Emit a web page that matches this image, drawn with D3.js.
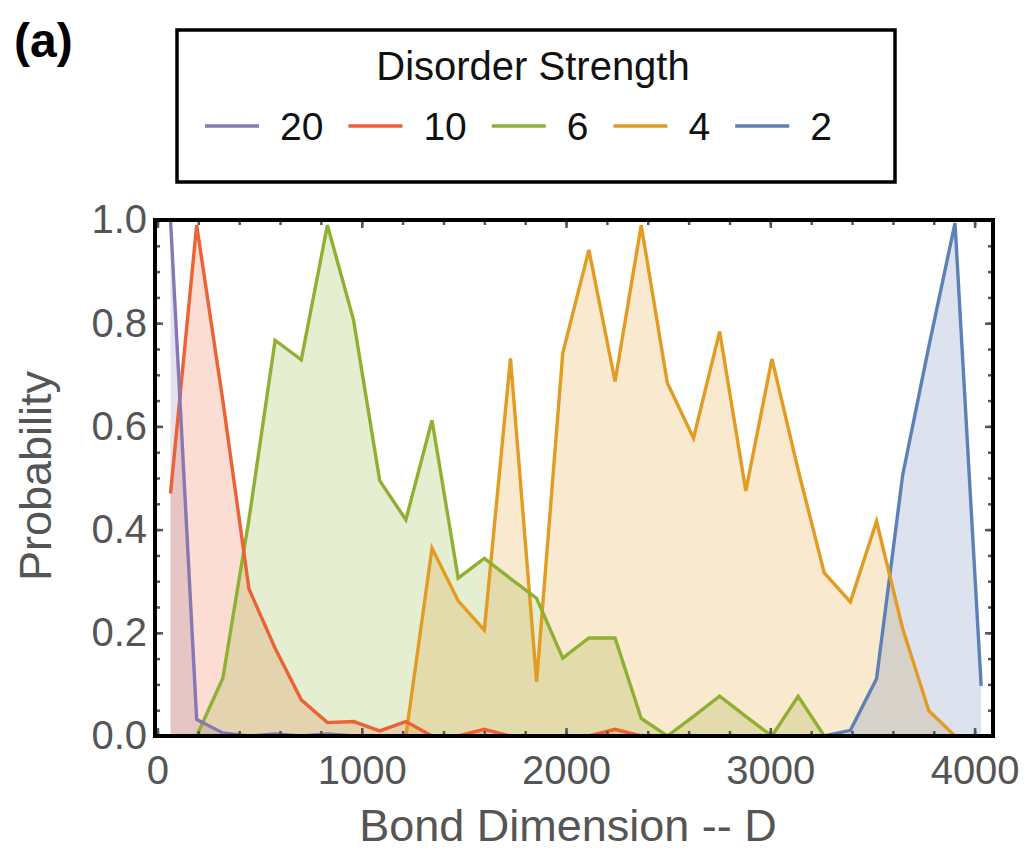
<!DOCTYPE html>
<html>
<head>
<meta charset="utf-8">
<script src="https://cdn.jsdelivr.net/npm/d3@7"></script>
<style>
  body { margin: 0; background: #fff; }
  svg { display: block; font-family: "Liberation Sans", Arial, Helvetica, sans-serif; }
</style>
</head>
<body>
<div id="chart"></div>
<script>
// ---- data ----
const bondDim = [64, 192, 320, 448, 576, 704, 832, 960, 1088, 1216, 1344, 1472, 1600, 1728, 1856, 1984,
                 2112, 2240, 2368, 2496, 2624, 2752, 2880, 3008, 3136, 3264, 3392, 3520, 3648, 3776, 3904, 4032];

// null = not drawn at that D
const prob20 = [1.0, 0.032, 0.006, 0.0, 0.004, 0.0, 0.004, 0.0,
                null, null, null, null, null, null, null, null, null, null, null, null, null, null, null, null,
                null, null, null, null, null, null, null, null];
const prob10 = [0.47, 0.99, 0.65, 0.285, 0.17, 0.07, 0.026, 0.028, 0.01, 0.028, 0.0, 0.0, 0.013, 0.0, 0.0, 0.0,
                0.0, 0.013, 0.0, null, null, null, null, null, null, null, null, null, null, null, null, null];
const prob6  = [null, 0.0, 0.112, 0.42, 0.767, 0.729, 0.99, 0.806, 0.495, 0.419, 0.612, 0.306, 0.344, 0.305, 0.267, 0.151,
                0.19, 0.19, 0.034, 0.0, 0.038, 0.077, 0.038, 0.0, 0.077, 0.0, null, null, null, null, null, null];
const prob4  = [null, null, null, null, null, null, null, null, null, 0.0, 0.364, 0.262, 0.205, 0.732, 0.105, 0.742,
                0.942, 0.687, 0.99, 0.684, 0.577, 0.784, 0.475, 0.731, 0.516, 0.316, 0.26, 0.416, 0.208, 0.049, 0.0, null];
const prob2  = [null, null, null, null, null, null, null, null, null, null, null, null, null, null, null, null,
                null, null, null, null, null, null, null, null, null, 0.0, 0.011, 0.111, 0.506, 0.755, 0.994, 0.097];

const seriesNames  = ["20", "10", "6", "4", "2"];
const seriesValues = [prob20, prob10, prob6, prob4, prob2];
const seriesColors = ["#8778B3", "#EB6235", "#8FB032", "#E19C24", "#5E81B5"];

const xTickLabels = [0, 1000, 2000, 3000, 4000];
const yTickLabels = [0, 0.2, 0.4, 0.6, 0.8, 1.0];
const xMinorTicks = d3.range(0, 4001, 200);
const yMinorTicks = d3.range(0, 1.001, 0.05);

// ---- layout ----
const width = 1031, height = 862;
const frame = { left: 155, right: 993, top: 220, bottom: 736 };

const svg = d3.select("#chart").append("svg")
  .attr("width", width)
  .attr("height", height);

const x = d3.scaleLinear().domain([-12, 4090]).range([frame.left, frame.right]);
const y = d3.scaleLinear().domain([0, 1]).range([frame.bottom, frame.top]);

svg.append("clipPath").attr("id", "plotClip")
  .append("rect")
  .attr("x", frame.left).attr("y", frame.top)
  .attr("width", frame.right - frame.left)
  .attr("height", frame.bottom - frame.top);

const plot = svg.append("g").attr("clip-path", "url(#plotClip)");

// series as point lists
const series = seriesNames.map((name, i) => ({
  name,
  color: seriesColors[i],
  points: bondDim.map((d, j) => ({ d, p: seriesValues[i][j] }))
}));

const area = d3.area()
  .defined(pt => pt.p != null)
  .x(pt => x(pt.d))
  .y0(y(0))
  .y1(pt => y(pt.p));

const line = d3.line()
  .defined(pt => pt.p != null)
  .x(pt => x(pt.d))
  .y(pt => y(pt.p));

// fills first
series.forEach(s => {
  plot.append("path")
    .datum(s.points)
    .attr("d", area)
    .attr("fill", s.color)
    .attr("fill-opacity", 0.22);
});

// lines, purple drawn last
series.slice().reverse().forEach(s => {
  plot.append("path")
    .datum(s.points)
    .attr("d", line)
    .attr("fill", "none")
    .attr("stroke", s.color)
    .attr("stroke-width", 3.4)
    .attr("stroke-linejoin", "miter");
});

// ---- axes (ticks inward on all four sides) ----
function styleAxis(g, fontSize) {
  g.select(".domain").remove();
  g.selectAll(".tick line").attr("stroke", "#555").attr("stroke-width", 2.5);
  g.selectAll(".tick text")
    .attr("fill", "#555")
    .style("font-size", fontSize + "px");
}

// bottom
svg.append("g").attr("transform", `translate(0,${frame.bottom})`)
  .call(d3.axisBottom(x).tickValues(xMinorTicks).tickSize(-5).tickFormat(""))
  .call(g => styleAxis(g, 40));
svg.append("g").attr("transform", `translate(0,${frame.bottom})`)
  .call(d3.axisBottom(x).tickValues(xTickLabels).tickSize(-8).tickPadding(20).tickFormat(d3.format("d")))
  .call(g => styleAxis(g, 40));

// top
svg.append("g").attr("transform", `translate(0,${frame.top})`)
  .call(d3.axisTop(x).tickValues(xMinorTicks).tickSize(-5).tickFormat(""))
  .call(g => styleAxis(g, 40));
svg.append("g").attr("transform", `translate(0,${frame.top})`)
  .call(d3.axisTop(x).tickValues(xTickLabels).tickSize(-8).tickFormat(""))
  .call(g => styleAxis(g, 40));

// left
svg.append("g").attr("transform", `translate(${frame.left},0)`)
  .call(d3.axisLeft(y).tickValues(yMinorTicks).tickSize(-5).tickFormat(""))
  .call(g => styleAxis(g, 40));
svg.append("g").attr("transform", `translate(${frame.left},0)`)
  .call(d3.axisLeft(y).tickValues(yTickLabels).tickSize(-8).tickPadding(8).tickFormat(d3.format(".1f")))
  .call(g => styleAxis(g, 40));

// right
svg.append("g").attr("transform", `translate(${frame.right},0)`)
  .call(d3.axisRight(y).tickValues(yMinorTicks).tickSize(-5).tickFormat(""))
  .call(g => styleAxis(g, 40));
svg.append("g").attr("transform", `translate(${frame.right},0)`)
  .call(d3.axisRight(y).tickValues(yTickLabels).tickSize(-8).tickFormat(""))
  .call(g => styleAxis(g, 40));

// frame
svg.append("rect")
  .attr("x", frame.left).attr("y", frame.top)
  .attr("width", frame.right - frame.left)
  .attr("height", frame.bottom - frame.top)
  .attr("fill", "none")
  .attr("stroke", "#000")
  .attr("stroke-width", 4);

// axis titles
svg.append("text")
  .attr("x", 568).attr("y", 841)
  .attr("text-anchor", "middle")
  .attr("fill", "#555")
  .style("font-size", "45px")
  .text("Bond Dimension -- D");

svg.append("text")
  .attr("transform", "translate(51,476) rotate(-90)")
  .attr("text-anchor", "middle")
  .attr("fill", "#555")
  .style("font-size", "45px")
  .text("Probability");

// panel label
svg.append("text")
  .attr("x", 14).attr("y", 57)
  .attr("fill", "#000")
  .style("font-size", "48px")
  .style("font-weight", "bold")
  .text("(a)");

// ---- legend ----
const legend = svg.append("g");
legend.append("rect")
  .attr("x", 177).attr("y", 30)
  .attr("width", 718).attr("height", 152)
  .attr("fill", "#fff")
  .attr("stroke", "#000")
  .attr("stroke-width", 3.5);

legend.append("text")
  .attr("x", 533).attr("y", 80)
  .attr("text-anchor", "middle")
  .attr("fill", "#111")
  .style("font-size", "40px")
  .text("Disorder Strength");

let lx = 205;
series.forEach(s => {
  legend.append("line")
    .attr("x1", lx).attr("x2", lx + 54)
    .attr("y1", 126).attr("y2", 126)
    .attr("stroke", s.color)
    .attr("stroke-width", 3.4);
  const t = legend.append("text")
    .attr("x", lx + 75).attr("y", 140)
    .attr("fill", "#111")
    .style("font-size", "39px")
    .text(s.name);
  lx = lx + 75 + t.node().getComputedTextLength() + 25;
});
</script>
</body>
</html>
